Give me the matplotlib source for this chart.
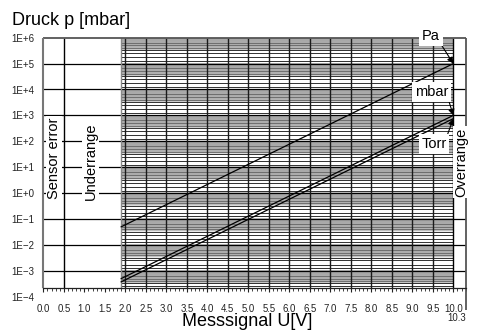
import matplotlib
matplotlib.use('Agg')
import matplotlib.pyplot as plt
import numpy as np
from matplotlib.ticker import MultipleLocator, NullLocator

plt.rcParams['font.family'] = ['Liberation Sans', 'DejaVu Sans']

# ---- data ----
U = [1.9, 10.0]                       # Messsignal U [V]
p_pa = [5.0e-2, 1.0e5]                # Pa
p_mbar = [5.0e-4, 1.0e3]              # mbar
p_torr = [3.75e-4, 7.5e2]             # Torr
x_ticks = [i * 0.5 for i in range(21)]
x_tick_labels = ["%.1f" % v for v in x_ticks]
y_exps = list(range(-4, 7))
y_tick_labels = [("1E+%d" % e) if e >= 0 else ("1E\u2212%d" % -e) for e in y_exps]
sub_dark = [1.25, 1.75, 2.5, 3.25]
sub_gray = [round(3.5 + 0.1 * i, 1) for i in range(65)]
sub_mid = [4.0, 5.0, 6.5]

W, H = 478, 331
fig = plt.figure(figsize=(W / 100, H / 100), dpi=100)
ax = fig.add_axes([43.3 / W, 1 - 296.7 / H, (465.6 - 43.3) / W, (296.7 - 37.7) / H])
ax.set_yscale('log')
ax.set_xlim(0, 10.3)
ax.set_ylim(1e-4, 1e6)

y_strip = 10 ** -3.68

for s in ['top', 'left', 'right']:
    ax.spines[s].set_visible(False)
ax.spines['bottom'].set_position(('data', y_strip))
ax.spines['bottom'].set_linewidth(0.9)
ax.spines['bottom'].set_color('#222222')

ax.set_xticks(x_ticks, x_tick_labels)
ax.xaxis.set_minor_locator(MultipleLocator(0.1))
ax.tick_params(axis='x', which='major', direction='out', length=3, width=0.8,
               pad=8, labelsize=6.9, colors='#222222')
ax.tick_params(axis='x', which='minor', direction='out', length=2, width=0.6,
               colors='#222222')

ax.set_yticks([10.0 ** e for e in y_exps], y_tick_labels)
ax.yaxis.set_minor_locator(NullLocator())
ax.tick_params(axis='y', length=0, pad=6.5, labelsize=7.0, colors='#222222')

# ---- grid ----
def in_range(factors):
    vals = []
    for e in range(-4, 6):
        for m in factors:
            v = m * 10.0 ** e
            if y_strip < v < 1e6:
                vals.append(v)
    return vals

ax.hlines(in_range(sub_gray), U[0], 10.0, color='#a8a8a8', lw=0.35, zorder=1)
ax.hlines(in_range(sub_mid), U[0], 10.0, color='#555555', lw=0.5, zorder=1.1)
ax.hlines(in_range(sub_dark), U[0], 10.0, color='#111111', lw=0.6, zorder=1.2)
decades = [10.0 ** e for e in range(-3, 6)]
ax.hlines(decades, 0, 10.3, color='black', lw=0.9, zorder=1.5)
ax.hlines([1e6], 0, 10.3, color='#555555', lw=1.3, zorder=2, clip_on=False)

ax.vlines([v * 0.5 for v in range(4, 20)], y_strip, 1e6, color='#1a1a1a', lw=1.0, zorder=1.6)
ax.vlines([0.5, 10.0], y_strip, 1e6, color='black', lw=1.0, zorder=1.6)
ax.vlines([U[0]], y_strip, 1e6, color='#888888', lw=1.0, zorder=1.6)
ax.vlines([0.0], y_strip, 1e6, color='#777777', lw=1.5, zorder=2, clip_on=False)
ax.vlines([10.3], 10 ** -4.51, 1e6, color='#555555', lw=1.3, zorder=2, clip_on=False)
ax.text(10.3, 10 ** -4.63, '10.3', ha='right', va='top', fontsize=6.9,
        color='#222222', clip_on=False)

# ---- curves ----
ax.plot(U, p_pa, color='black', lw=0.9, zorder=3)
ax.plot(U, p_mbar, color='black', lw=0.9, zorder=3)
ax.plot(U, p_torr, color='black', lw=0.9, zorder=3)

# ---- region labels ----
wb = dict(facecolor='white', edgecolor='none', pad=1.0)
ax.text(0.26, 10 ** 1.355, 'Sensor error', rotation=90, ha='center', va='center',
        fontsize=10.5, bbox=wb, zorder=5)
ax.text(1.16, 10 ** 1.24, 'Underrange', rotation=90, ha='center', va='center',
        fontsize=10.5, bbox=wb, zorder=5)
ax.text(10.2, 10 ** 1.2, 'Overrange', rotation=90, ha='center', va='center',
        fontsize=10.5, bbox=wb, zorder=5, clip_on=False)

ap = dict(arrowstyle='-|>', color='black', lw=0.8, mutation_scale=9,
          shrinkA=0, shrinkB=0)
lb = dict(facecolor='white', edgecolor='none', pad=2.0)
ax.annotate('Pa', xy=(U[-1], p_pa[-1]), xytext=(9.46, 10 ** 6.07), ha='center', va='center',
            fontsize=10.5, bbox=lb, arrowprops=dict(ap, relpos=(1, 0)),
            annotation_clip=False, zorder=6)
ax.annotate('mbar', xy=(U[-1], p_mbar[-1]), xytext=(9.47, 10 ** 3.9), ha='center', va='center',
            fontsize=10.5, bbox=lb, arrowprops=dict(ap, relpos=(1, 0)),
            annotation_clip=False, zorder=6)
ax.annotate('Torr', xy=(U[-1], p_torr[-1]), xytext=(9.53, 10 ** 1.9), ha='center', va='center',
            fontsize=10.5, bbox=lb, arrowprops=dict(ap, relpos=(1, 1)),
            annotation_clip=False, zorder=6)

fig.text(12.5 / W, 1 - 25 / H, 'Druck p [mbar]', fontsize=13, va='baseline', ha='left')
fig.text(247 / W, 1 - 321 / H, 'Messsignal U[V]', fontsize=13, va='center', ha='center')

fig.savefig('out.png', dpi=100)
